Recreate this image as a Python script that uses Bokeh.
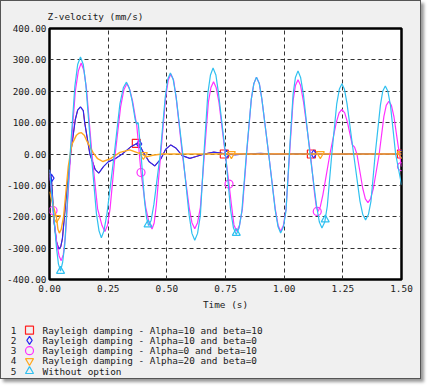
from bokeh.plotting import figure
from bokeh.layouts import column
from bokeh.models import Range1d, FixedTicker, NumeralTickFormatter
from bokeh.core.properties import value
from bokeh.embed import file_html
from bokeh.resources import INLINE

# ---------------- data ----------------
x_ticks = [0.0, 0.25, 0.5, 0.75, 1.0, 1.25, 1.5]
y_ticks = [-400, -300, -200, -100, 0, 100, 200, 300, 400]

series_names = [
    "Rayleigh damping - Alpha=10 and beta=10",
    "Rayleigh damping - Alpha=10 and beta=0",
    "Rayleigh damping - Alpha=0 and beta=10",
    "Rayleigh damping - Alpha=20 and beta=0",
    "Without option",
]
series_numbers = ["1", "2", "3", "4", "5"]

t_red = [0.000, 0.008, 0.020, 0.030, 0.040, 0.048, 0.055, 0.072, 0.090, 0.110, 0.120, 0.132, 0.144, 0.150, 0.172,
         0.195, 0.210, 0.230, 0.250, 0.280, 0.310, 0.345, 0.370, 0.382, 0.400, 0.425, 0.449, 0.475, 0.495, 0.517,
         0.540, 0.565, 0.598, 0.625, 0.660, 0.700, 0.730, 0.745, 1.500]
v_red = [-50, -77, -220, -280, -303, -295, -270, -130, 0, 110, 140, 150, 138, 100, 0,
         -50, -61, -40, -25, -15, 0, 22, 33, 32, 5, -25, -38, -15, 15, 29,
         18, -5, -14, -8, 0, 6, 3, 0, 0]

t_blue = [0.000, 0.008, 0.020, 0.030, 0.040, 0.048, 0.055, 0.072, 0.090, 0.110, 0.120, 0.132, 0.144, 0.150, 0.172,
          0.195, 0.210, 0.230, 0.250, 0.280, 0.310, 0.345, 0.370, 0.382, 0.400, 0.425, 0.449, 0.475, 0.495, 0.517,
          0.540, 0.565, 0.598, 0.625, 0.660, 0.700, 0.730, 0.755, 0.790, 0.830, 0.900, 0.960, 1.050, 1.126, 1.200,
          1.300, 1.400, 1.500]
v_blue = [-50, -77, -220, -280, -303, -295, -270, -130, 0, 110, 140, 150, 138, 100, 0,
          -50, -61, -40, -25, -15, 0, 22, 33, 32, 5, -25, -38, -15, 15, 29,
          18, -5, -14, -8, 0, 6, 3, 0, -3, 0, 2, -1, 1, 0, -1,
          1, 0, 0]

t_mag = [0.000, 0.015, 0.032, 0.041, 0.050, 0.059, 0.068, 0.090, 0.110, 0.123, 0.135, 0.147, 0.158, 0.181,
         0.205, 0.224, 0.236, 0.247, 0.258, 0.280, 0.303, 0.317, 0.330, 0.342, 0.355, 0.372, 0.390, 0.410,
         0.425, 0.437, 0.446, 0.455, 0.474, 0.495, 0.506, 0.517, 0.529, 0.540, 0.566, 0.595, 0.607, 0.619,
         0.631, 0.643, 0.660, 0.677, 0.688, 0.699, 0.710, 0.722, 0.749, 0.765, 0.775, 0.786, 0.798, 0.810,
         0.822, 0.840, 0.860, 0.871, 0.882, 0.894, 0.905, 0.934, 0.962, 0.974, 0.985, 0.997, 1.008, 1.023,
         1.038, 1.048, 1.059, 1.070, 1.082, 1.112, 1.130, 1.137, 1.144, 1.154, 1.165, 1.195, 1.222, 1.234,
         1.246, 1.258, 1.270, 1.290, 1.300, 1.310, 1.335, 1.346, 1.357, 1.368, 1.380, 1.405, 1.425, 1.435,
         1.446, 1.457, 1.468, 1.485, 1.500]
v_mag = [-60, -180, -290, -325, -340, -320, -260, 0, 200, 265, 290, 265, 205, 0,
         -175, -228, -247, -228, -175, 0, 150, 205, 225, 205, 165, 90, -59, -170,
         -222, -239, -220, -165, 0, 180, 235, 255, 235, 178, 0, -170, -219, -238,
         -219, -170, 0, 165, 212, 230, 212, 165, 0, -96, -160, -226, -246, -226,
         -175, 0, 175, 225, 245, 225, 175, 0, -175, -227, -247, -227, -175, 0,
         170, 218, 237, 218, 168, 0, -130, -168, -183, -168, -130, 0, 100, 131,
         142, 131, 100, 30, 22, 0, -110, -143, -155, -143, -110, 0, 120, 155,
         168, 155, 118, 30, -40]

t_orange = [0.000, 0.030, 0.036, 0.042, 0.050, 0.060, 0.080, 0.095, 0.115, 0.125, 0.136, 0.148, 0.160, 0.185,
            0.205, 0.228, 0.260, 0.300, 0.342, 0.380, 0.400, 0.413, 0.440, 0.480, 1.500]
v_orange = [-120, -204, -240, -252, -240, -200, -40, 30, 60, 66, 68, 60, 40, 5,
            -15, -24, -15, 5, 13, 3, -3, -9, -4, 0, 0]

t_cyan = [0.000, 0.015, 0.030, 0.038, 0.047, 0.056, 0.065, 0.088, 0.108, 0.120, 0.132, 0.144, 0.155, 0.178,
          0.200, 0.211, 0.221, 0.232, 0.245, 0.276, 0.300, 0.315, 0.328, 0.340, 0.352, 0.365, 0.372, 0.378,
          0.390, 0.405, 0.414, 0.422, 0.433, 0.445, 0.472, 0.493, 0.504, 0.515, 0.527, 0.540, 0.568, 0.595,
          0.607, 0.619, 0.631, 0.643, 0.658, 0.675, 0.686, 0.697, 0.709, 0.720, 0.750, 0.772, 0.784, 0.796,
          0.808, 0.820, 0.839, 0.860, 0.871, 0.882, 0.894, 0.905, 0.934, 0.962, 0.974, 0.985, 0.997, 1.008,
          1.022, 1.038, 1.048, 1.059, 1.070, 1.082, 1.110, 1.138, 1.150, 1.161, 1.173, 1.184, 1.203, 1.224,
          1.235, 1.246, 1.257, 1.268, 1.296, 1.323, 1.335, 1.347, 1.359, 1.370, 1.388, 1.410, 1.420, 1.431,
          1.442, 1.453, 1.475, 1.500]
v_cyan = [-50, -170, -300, -350, -373, -345, -290, 0, 215, 285, 309, 285, 220, 0,
          -190, -245, -267, -245, -190, 0, 160, 212, 229, 210, 170, 110, 95, 100,
          0, -150, -205, -228, -212, -160, 0, 180, 238, 258, 238, 180, 0, -195,
          -253, -275, -253, -195, 0, 195, 252, 274, 252, 195, 0, -180, -236, -257,
          -236, -180, 0, 175, 225, 245, 225, 175, 0, -180, -232, -252, -232, -180,
          0, 190, 244, 265, 244, 190, 0, -165, -217, -236, -217, -165, 0, 160,
          206, 224, 206, 160, 0, -150, -193, -210, -193, -150, 0, 155, 200, 217,
          200, 155, 0, -98]

# marker positions (symbols drawn along each curve)
mt_red = [0.370, 0.745, 1.116, 1.500]
mv_red = [34, 0, 0, 0]
mt_blue = [0.008, 0.382, 0.755, 1.126, 1.500]
mv_blue = [-77, 32, 0, 0, 0]
mt_mag = [0.015, 0.390, 0.765, 1.141, 1.500]
mv_mag = [-180, -59, -96, -183, -40]
mt_orange = [0.030, 0.400, 0.775, 1.154, 1.500]
mv_orange = [-204, -3, 0, 0, 0]
mt_cyan = [0.047, 0.420, 0.796, 1.175]
mv_cyan = [-373, -225, -252, -209]

# ---------------- styling ----------------
FONT = "DejaVu Sans Mono"
FS = "9.4px"
TXT = "#1a1a1a"
BG = "#f0f0f0"
colors = ["#ff2020", "#2a2af0", "#ff30ff", "#ffa820", "#30c0f0"]
markers = ["square", "diamond", "circle", "inverted_triangle", "triangle"]
line_widths = [1.0, 1.2, 1.2, 1.4, 1.2]

W = 419
p = figure(width=W, height=311, output_backend="svg", toolbar_location=None,
           x_range=Range1d(0, 1.5), y_range=Range1d(-400, 400),
           min_border_left=48, min_border_right=19, min_border_top=26, min_border_bottom=33)
p.background_fill_color = "white"
p.border_fill_color = BG
p.outline_line_color = "black"
p.outline_line_width = 2.5

p.title.text = "Z-velocity (mm/s)"
p.title.align = "left"
p.title.offset = -2
p.title.standoff = 14
p.title.text_font = FONT
p.title.text_font_size = FS
p.title.text_font_style = "normal"
p.title.text_color = TXT

for ax, ticks in ((p.xaxis, x_ticks), (p.yaxis, y_ticks)):
    ax.ticker = FixedTicker(ticks=ticks)
    ax.formatter = NumeralTickFormatter(format="0.00")
    ax.major_tick_in = 0
    ax.major_tick_out = 0
    ax.minor_tick_in = 0
    ax.minor_tick_out = 0
    ax.axis_line_color = None
    ax.major_label_text_font = FONT
    ax.major_label_text_font_size = FS
    ax.major_label_text_color = TXT
p.xaxis.major_label_standoff = 5
p.yaxis.major_label_standoff = 3
p.xaxis.axis_label = "Time (s)"
p.xaxis.axis_label_standoff = 4
p.xaxis.axis_label_text_font = FONT
p.xaxis.axis_label_text_font_size = FS
p.xaxis.axis_label_text_font_style = "normal"
p.xaxis.axis_label_text_color = TXT

p.xgrid.ticker = FixedTicker(ticks=x_ticks[1:-1])
p.ygrid.ticker = FixedTicker(ticks=y_ticks[1:-1])
for g in (p.xgrid, p.ygrid):
    g.grid_line_color = "#333333"
    g.grid_line_dash = "4 3"
    g.grid_line_width = 1

series = [
    (t_red, v_red, mt_red, mv_red),
    (t_blue, v_blue, mt_blue, mv_blue),
    (t_mag, v_mag, mt_mag, mv_mag),
    (t_orange, v_orange, mt_orange, mv_orange),
    (t_cyan, v_cyan, mt_cyan, mv_cyan),
]

for (t, v, mt, mv), c, m, lw in zip(series, colors, markers, line_widths):
    p.line(t, v, line_color=c, line_width=lw)
    p.scatter(mt, mv, marker=m, size=8, fill_color=None, line_color=c, line_width=1.2)

# ---------------- legend panel below the chart ----------------
LH = 66
q = figure(width=W, height=LH, output_backend="svg", toolbar_location=None,
           x_range=Range1d(0, W), y_range=Range1d(LH, 0),
           x_axis_location=None, y_axis_location=None,
           min_border=0, min_border_left=0, min_border_right=0, min_border_top=0, min_border_bottom=0)
q.outline_line_color = None
q.background_fill_color = BG
q.border_fill_color = BG
q.grid.visible = False
for fig in (p, q):
    if "frame_align" in fig.properties():
        fig.frame_align = False

row_y0, row_h = 17.7, 10.25
rows = [row_y0 + i * row_h for i in range(len(series_names))]
q.text(x=[12] * len(rows), y=rows, text=series_numbers, text_font=value(FONT), text_font_size=value(FS),
       text_color=TXT, text_align="center", text_baseline="middle")
q.scatter(x=[28] * len(rows), y=rows, marker=markers, size=8, fill_color=None, line_color=colors, line_width=1.2)
q.text(x=[41] * len(rows), y=rows, text=series_names, text_font=value(FONT), text_font_size=value(FS),
       text_color=TXT, text_align="left", text_baseline="middle")

layout = column(p, q, spacing=0,
                styles={"border": "1px solid #555", "box-shadow": "3px 3px 3px #999",
                        "background-color": BG})

open("out.html", "w").write(file_html(layout, INLINE))
